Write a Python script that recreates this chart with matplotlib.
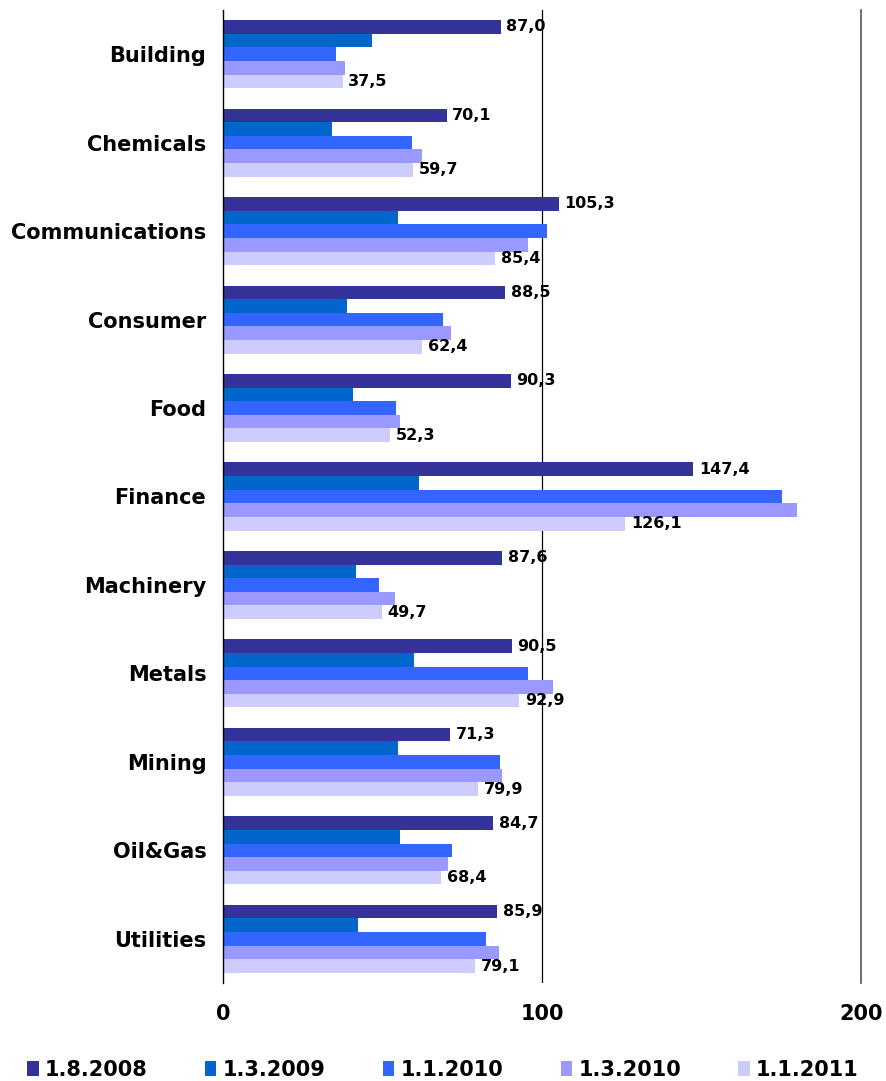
import matplotlib
matplotlib.use("Agg")
import matplotlib.pyplot as plt
from matplotlib.patches import Patch
import numpy as np

categories = ["Building", "Chemicals", "Communications", "Consumer", "Food",
              "Finance", "Machinery", "Metals", "Mining", "Oil&Gas", "Utilities"]
series_names = ["1.8.2008", "1.3.2009", "1.1.2010", "1.3.2010", "1.1.2011"]
s_2008_08 = [87.0, 70.1, 105.3, 88.5, 90.3, 147.4, 87.6, 90.5, 71.3, 84.7, 85.9]
s_2009_03 = [46.7, 34.2, 54.9, 38.9, 40.8, 61.4, 41.7, 59.9, 54.9, 55.5, 42.3]
s_2010_01 = [35.4, 59.2, 101.6, 69.0, 54.2, 175.2, 48.9, 95.6, 86.8, 71.8, 82.4]
s_2010_03 = [38.2, 62.4, 95.6, 71.5, 55.5, 179.9, 53.9, 103.4, 87.5, 70.5, 86.5]
s_2011_01 = [37.5, 59.7, 85.4, 62.4, 52.3, 126.1, 49.7, 92.9, 79.9, 68.4, 79.1]
x_ticks = [0, 100, 200]

series = [s_2008_08, s_2009_03, s_2010_01, s_2010_03, s_2011_01]
colors = ["#333399", "#0066CC", "#3366FF", "#9999FF", "#CCCCFF"]
labelled = {0, 4}

plt.rcParams['font.family'] = ['DejaVu Sans']
fig = plt.figure(figsize=(8.86, 10.81), dpi=100)
ax = fig.add_axes([223 / 886, 1 - 983 / 1081, (861 - 223) / 886, (983 - 10) / 1081])

y = np.arange(len(categories))
h = 0.154
for i, (vals, col) in enumerate(zip(series, colors)):
    pos = y + (i - 2) * h
    ax.barh(pos, vals, height=h, color=col, edgecolor='none', zorder=2)
    if i in labelled:
        for p, v in zip(pos, vals):
            ax.annotate(f"{v:.1f}".replace(".", ","), (v, p), xytext=(4, 0),
                        textcoords='offset points', va='center', ha='left',
                        fontsize=11.5, fontweight='bold', zorder=3)

ax.set_xlim(0, 200)
ax.set_ylim(len(categories) - 0.5, -0.5)
ax.set_yticks(y)
ax.set_yticklabels(categories, fontsize=15, fontweight='bold')
ax.set_xticks(x_ticks)
ax.set_xticklabels([str(t) for t in x_ticks], fontsize=15, fontweight='bold')
ax.tick_params(axis='y', length=0, pad=12)
ax.tick_params(axis='x', length=0, pad=15)

ax.axvline(100, color='black', lw=0.9, zorder=1)
for side in ['top', 'bottom']:
    ax.spines[side].set_visible(False)
ax.spines['left'].set_color('black')
ax.spines['left'].set_linewidth(1.0)
ax.spines['right'].set_color('#555555')
ax.spines['right'].set_linewidth(1.2)

handles = [Patch(facecolor=c, edgecolor='none', label=n) for c, n in zip(colors, series_names)]
leg = fig.legend(handles=handles, loc='center', bbox_to_anchor=(0.5, 1 - 1070 / 1081),
                 ncol=5, frameon=False, handlelength=0.55, handleheight=0.75,
                 handletextpad=0.3, columnspacing=2.75,
                 prop={'size': 15, 'weight': 'bold'})

fig.savefig("out.png", dpi=100)
